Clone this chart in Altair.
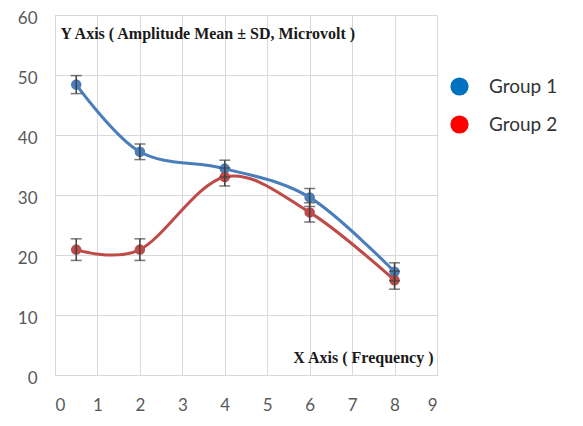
import altair as alt
import pandas as pd

freq = [0.5, 2, 4, 6, 8]
group1_mean = [48.4, 37.2, 34.4, 29.6, 17.2]
group1_sd = [1.5, 1.3, 1.4, 1.5, 1.5]
group2_mean = [20.9, 20.9, 33.0, 27.1, 15.8]
group2_sd = [1.8, 1.8, 1.5, 1.6, 1.5]
groups = ["Group 1", "Group 2"]
line_colors = ["#4a7ebb", "#be4b48"]
legend_colors = ["#0070c0", "#ff0000"]
x_ticks = [0, 1, 2, 3, 4, 5, 6, 7, 8, 9]
y_ticks = [0, 10, 20, 30, 40, 50, 60]

rows = []
for g, means, sds in [(groups[0], group1_mean, group1_sd), (groups[1], group2_mean, group2_sd)]:
    for f, m, s in zip(freq, means, sds):
        rows.append({"group": g, "freq": f, "mean": m, "lo": m - s, "hi": m + s})
df = pd.DataFrame(rows)

grid_c = "#d9d9d9"
x_enc = alt.X(
    "freq:Q",
    scale=alt.Scale(domain=[0, 9], nice=False),
    axis=alt.Axis(
        values=x_ticks, grid=True, ticks=False, domainColor=grid_c, gridColor=grid_c,
        labelPadding=22, labelFontSize=17, labelFont="Lato", labelColor="#595959",
        title="X Axis ( Frequency )", titleX=378, titleY=-18, titleAngle=0,
        titleAlign="right", titleBaseline="middle", titleFont="Liberation Serif",
        titleFontSize=16, titleFontWeight="bold", titleColor="#1a1a1a",
    ),
)
y_scale = alt.Scale(domain=[0, 60], nice=False)
y_enc = alt.Y(
    "mean:Q",
    scale=y_scale,
    axis=alt.Axis(
        values=y_ticks, grid=True, ticks=False, domainColor=grid_c, gridColor=grid_c,
        labelPadding=18, labelFontSize=17, labelFont="Lato", labelColor="#595959",
        labelOffset=3,
        title="Y Axis ( Amplitude Mean ± SD, Microvolt )", titleX=5, titleY=18,
        titleAngle=0, titleAlign="left", titleBaseline="middle",
        titleFont="Liberation Serif", titleFontSize=16, titleFontWeight="bold",
        titleColor="#1a1a1a",
    ),
)
color_enc = alt.Color("group:N", scale=alt.Scale(domain=groups, range=line_colors), legend=None)

base = alt.Chart(df)

legend_layer = base.mark_circle(size=1).encode(
    x=x_enc, y=y_enc,
    fill=alt.Fill(
        "group:N",
        scale=alt.Scale(domain=groups, range=legend_colors),
        legend=alt.Legend(
            orient="none", legendX=395, legendY=62, title=None, symbolType="circle",
            symbolSize=330, symbolStrokeWidth=0, symbolOpacity=1, labelFontSize=19,
            labelFont="Lato", labelColor="#333333", rowPadding=18, labelOffset=20,
            padding=0,
        ),
    ),
)
lines = base.mark_line(interpolate="cardinal", strokeWidth=3).encode(x="freq:Q", y="mean:Q", color=color_enc)
points = base.mark_circle(size=110, opacity=1).encode(x="freq:Q", y="mean:Q", color=color_enc)
err = base.mark_rule(color="#404040", strokeWidth=1.5).encode(x="freq:Q", y="lo:Q", y2="hi:Q")
cap_hi = base.mark_tick(orient="horizontal", size=11, thickness=1.5, color="#404040").encode(x="freq:Q", y="hi:Q")
cap_lo = base.mark_tick(orient="horizontal", size=11, thickness=1.5, color="#404040").encode(x="freq:Q", y="lo:Q")

chart = alt.layer(legend_layer, lines, points, err, cap_hi, cap_lo).properties(
    width=382, height=360,
    autosize=alt.AutoSizeParams(type="none"),
    padding={"left": 47, "top": 7, "right": 138, "bottom": 43},
).configure_view(stroke=None).configure(background="white")

chart.save("out.html", embed_options={"renderer": "svg", "actions": False})
